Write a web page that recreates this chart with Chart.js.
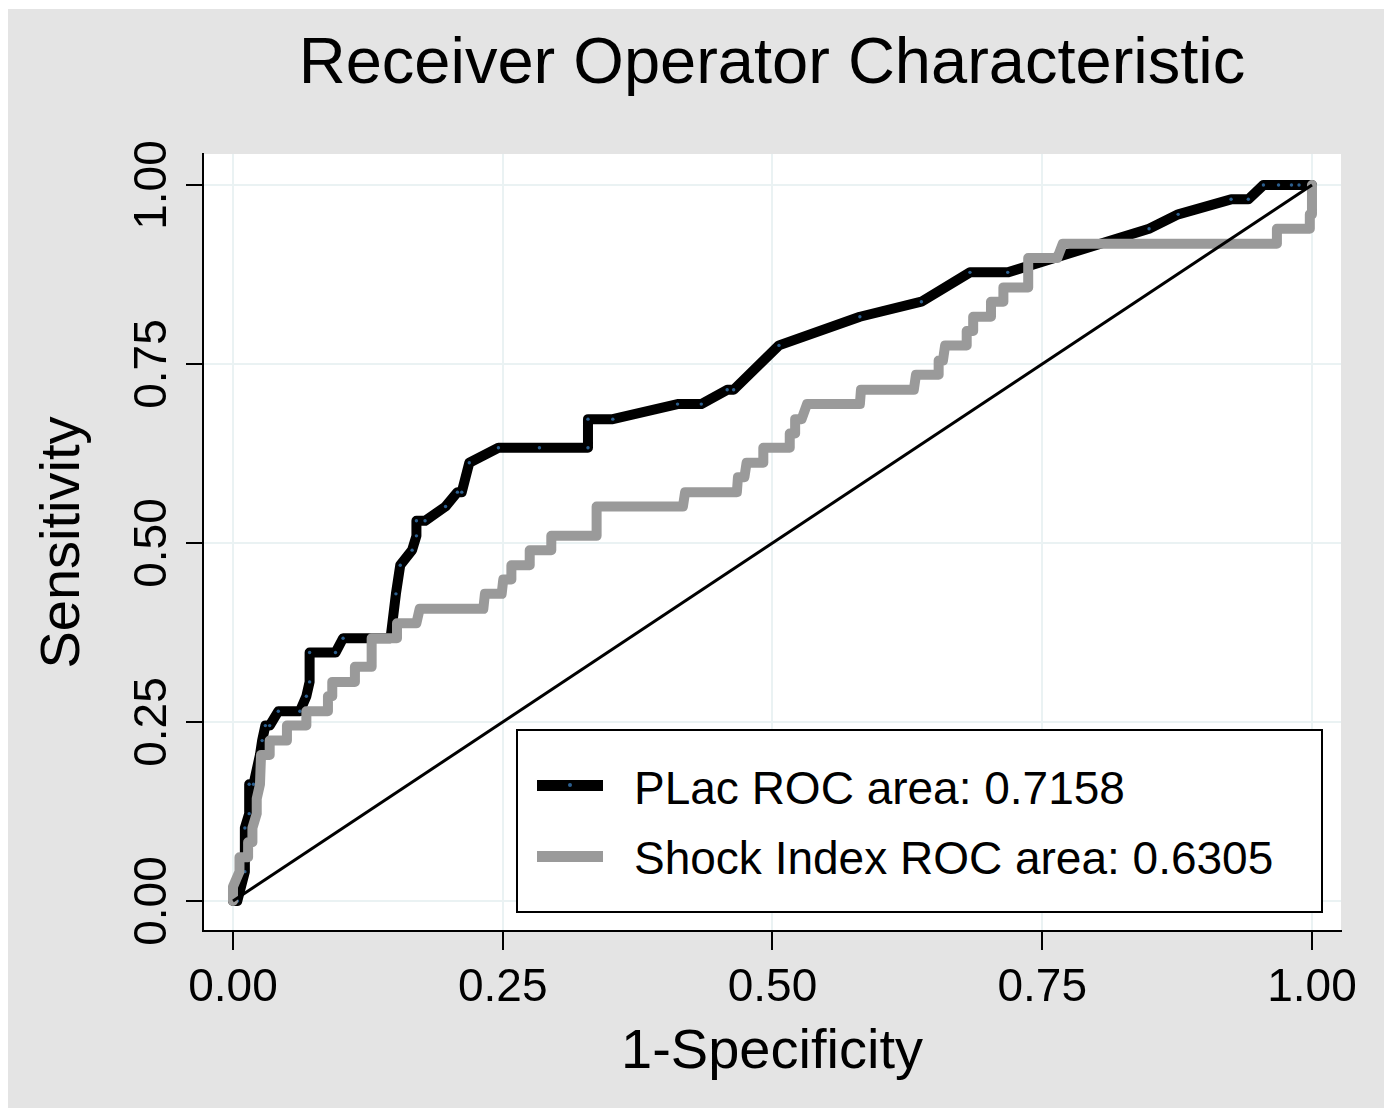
<!DOCTYPE html>
<html>
<head>
<meta charset="utf-8">
<title>Receiver Operator Characteristic</title>
<script src="https://cdn.jsdelivr.net/npm/chart.js@4.4.1/dist/chart.umd.min.js"></script>
<style>
  html, body { margin: 0; padding: 0; background: #fff; }
  #wrap { position: relative; width: 1384px; height: 1108px; }
  #roc { position: absolute; left: 0; top: 0; }
  .legend {
    position: absolute; left: 516px; top: 729px; width: 807px; height: 184px;
    box-sizing: border-box; border: 2px solid #000; background: #fff;
    font-family: 'Liberation Sans', Arial, sans-serif; font-size: 46px; color: #000;
  }
  .legend .swatch { position: absolute; left: 19px; width: 66px; height: 11px; }
  .legend .swatch .dot { position: absolute; left: 31px; top: 3px; width: 4px; height: 4px; border-radius: 50%; background: #2c5f8f; }
  .legend .label { position: absolute; left: 116px; line-height: 46px; white-space: nowrap; }
</style>
</head>
<body>
<div id="wrap">
  <canvas id="roc" width="1384" height="1108"></canvas>
  <div class="legend" id="legend"></div>
</div>
<script>
// ROC curves: x = 1 - specificity, y = sensitivity
const placSpec = [0, 0.004, 0.011, 0.011, 0.015, 0.015, 0.019, 0.025, 0.027, 0.030, 0.034, 0.042, 0.062, 0.068, 0.071, 0.071, 0.095, 0.102, 0.146, 0.151, 0.155, 0.166, 0.170, 0.170, 0.178, 0.197, 0.208, 0.212, 0.219, 0.246, 0.284, 0.329, 0.329, 0.352, 0.412, 0.434, 0.458, 0.464, 0.506, 0.581, 0.638, 0.683, 0.718, 0.849, 0.876, 0.925, 0.941, 0.955, 0.969, 0.981, 0.988, 1.0];
const placSens = [0, 0, 0.041, 0.102, 0.122, 0.163, 0.163, 0.204, 0.224, 0.245, 0.245, 0.265, 0.265, 0.286, 0.306, 0.347, 0.347, 0.367, 0.367, 0.429, 0.469, 0.490, 0.510, 0.531, 0.531, 0.551, 0.571, 0.571, 0.612, 0.633, 0.633, 0.633, 0.673, 0.673, 0.694, 0.694, 0.714, 0.714, 0.776, 0.816, 0.837, 0.878, 0.878, 0.939, 0.959, 0.980, 0.980, 1, 1, 1, 1, 1];

const shockSpec = [0, 0, 0.006, 0.006, 0.014, 0.014, 0.018, 0.018, 0.022, 0.022, 0.025, 0.026, 0.034, 0.034, 0.050, 0.050, 0.068, 0.068, 0.088, 0.088, 0.092, 0.092, 0.113, 0.113, 0.1285, 0.1285, 0.152, 0.152, 0.170, 0.173, 0.232, 0.2335, 0.249, 0.2505, 0.258, 0.258, 0.275, 0.275, 0.295, 0.295, 0.337, 0.337, 0.417, 0.419, 0.467, 0.468, 0.474, 0.476, 0.4915, 0.4915, 0.516, 0.516, 0.521, 0.521, 0.527, 0.532, 0.581, 0.582, 0.631, 0.633, 0.654, 0.654, 0.658, 0.660, 0.680, 0.680, 0.686, 0.686, 0.7025, 0.7025, 0.714, 0.714, 0.737, 0.737, 0.764, 0.769, 0.9675, 0.9675, 0.998, 0.998, 1.0, 1.0];
const shockSens = [0, 0.020, 0.041, 0.061, 0.061, 0.082, 0.082, 0.102, 0.122, 0.143, 0.163, 0.204, 0.204, 0.224, 0.224, 0.245, 0.245, 0.265, 0.265, 0.286, 0.286, 0.306, 0.306, 0.327, 0.327, 0.367, 0.367, 0.388, 0.388, 0.408, 0.408, 0.429, 0.429, 0.449, 0.449, 0.469, 0.469, 0.490, 0.490, 0.510, 0.510, 0.551, 0.551, 0.571, 0.571, 0.592, 0.592, 0.612, 0.612, 0.633, 0.633, 0.653, 0.653, 0.673, 0.673, 0.694, 0.694, 0.714, 0.714, 0.735, 0.735, 0.755, 0.755, 0.776, 0.776, 0.796, 0.796, 0.816, 0.816, 0.837, 0.837, 0.857, 0.857, 0.898, 0.898, 0.918, 0.918, 0.939, 0.939, 0.959, 0.959, 1.0];

const refLine = [0, 1];

const seriesLabels = ['PLac ROC area: 0.7158', 'Shock Index ROC area: 0.6305'];
const seriesColors = ['#000000', '#9a9a9a'];
const xTicks = [0, 0.25, 0.5, 0.75, 1];
const yTicks = [0, 0.25, 0.5, 0.75, 1];

const FONT = "'Liberation Sans', Arial, sans-serif";

const toPoints = (xs, ys) => xs.map((x, i) => ({ x: x, y: ys[i] }));

// grey page with a white plot region, like the Stata graph region
const background = {
  id: 'background',
  beforeDraw(chart) {
    const { ctx, chartArea: a, width, height } = chart;
    ctx.save();
    ctx.fillStyle = '#fff';
    ctx.fillRect(0, 0, width, height);
    ctx.fillStyle = '#e4e4e4';
    ctx.fillRect(8, 9, width, height);
    ctx.fillStyle = '#fff';
    ctx.fillRect(a.left, a.top, a.right - a.left, a.bottom - a.top);
    ctx.restore();
  }
};

// y tick labels are turned on their side
const yLabels = {
  id: 'yLabels',
  afterDraw(chart) {
    const { ctx } = chart;
    const scale = chart.scales.y;
    ctx.save();
    ctx.fillStyle = '#000';
    ctx.font = '46px ' + FONT;
    ctx.textAlign = 'center';
    ctx.textBaseline = 'alphabetic';
    yTicks.forEach(v => {
      ctx.save();
      ctx.translate(165.5, scale.getPixelForValue(v));
      ctx.rotate(-Math.PI / 2);
      ctx.fillText(v.toFixed(2), 0, 0);
      ctx.restore();
    });
    ctx.restore();
  }
};

const ctx = document.getElementById('roc').getContext('2d');
new Chart(ctx, {
  type: 'line',
  data: {
    datasets: [
      {
        label: seriesLabels[0],
        data: toPoints(placSpec, placSens),
        borderColor: seriesColors[0],
        borderWidth: 10,
        borderJoinStyle: 'round',
        borderCapStyle: 'round',
        pointRadius: 1.7,
        pointBorderWidth: 0,
        pointBackgroundColor: '#2c5f8f',
        pointHoverRadius: 0,
        tension: 0,
        order: 2
      },
      {
        label: seriesLabels[1],
        data: toPoints(shockSpec, shockSens),
        borderColor: seriesColors[1],
        borderWidth: 10,
        borderJoinStyle: 'round',
        borderCapStyle: 'round',
        pointRadius: 0,
        tension: 0,
        order: 1
      },
      {
        label: 'reference',
        data: toPoints(refLine, refLine),
        borderColor: '#000',
        borderWidth: 3,
        pointRadius: 0,
        tension: 0,
        order: 0
      }
    ]
  },
  options: {
    responsive: false,
    animation: false,
    devicePixelRatio: 1,
    layout: { padding: { left: 0, right: 43, top: 0, bottom: 0 } },
    plugins: {
      legend: { display: false },
      tooltip: { enabled: false },
      title: {
        display: true,
        text: 'Receiver Operator Characteristic',
        fullSize: false,
        color: '#000',
        font: { family: FONT, size: 65, weight: 'normal' },
        padding: { top: 26, bottom: 50 }
      }
    },
    scales: {
      x: {
        type: 'linear',
        min: -0.0278,
        max: 1.0269,
        afterBuildTicks: s => { s.ticks = xTicks.map(v => ({ value: v })); },
        afterFit: s => { s.height = 177; },
        ticks: {
          color: '#000',
          font: { family: FONT, size: 46 },
          padding: 11,
          maxRotation: 0,
          autoSkip: false,
          callback: v => v.toFixed(2)
        },
        grid: { color: '#eaf2f3', lineWidth: 2, tickColor: '#000', tickLength: 19, tickWidth: 2 },
        border: { display: true, color: '#000', width: 2 },
        title: {
          display: true,
          text: '1-Specificity',
          color: '#000',
          font: { family: FONT, size: 56 },
          padding: { top: 0, bottom: 22 }
        }
      },
      y: {
        type: 'linear',
        min: -0.0419,
        max: 1.0433,
        afterBuildTicks: s => { s.ticks = yTicks.map(v => ({ value: v })); },
        afterFit: s => { s.width = 203; },
        ticks: { display: false },
        grid: { color: '#eaf2f3', lineWidth: 2, tickColor: '#000', tickLength: 17, tickWidth: 2 },
        border: { display: true, color: '#000', width: 2 },
        title: {
          display: true,
          text: 'Sensitivity',
          color: '#000',
          font: { family: FONT, size: 56 },
          padding: { top: 30, bottom: 0 }
        }
      }
    }
  },
  plugins: [background, yLabels]
});

// legend box drawn as html over the plot
const legend = document.getElementById('legend');
const rowTops = [56, 127];
const textTops = [34, 104];
seriesLabels.forEach((text, i) => {
  const swatch = document.createElement('div');
  swatch.className = 'swatch';
  swatch.style.top = (rowTops[i] - 2 - 5.5) + 'px';
  swatch.style.background = seriesColors[i];
  if (i === 0) {
    const dot = document.createElement('div');
    dot.className = 'dot';
    swatch.appendChild(dot);
  }
  legend.appendChild(swatch);

  const label = document.createElement('div');
  label.className = 'label';
  label.style.top = textTops[i] + 'px';
  label.textContent = text;
  legend.appendChild(label);
});
</script>
</body>
</html>
